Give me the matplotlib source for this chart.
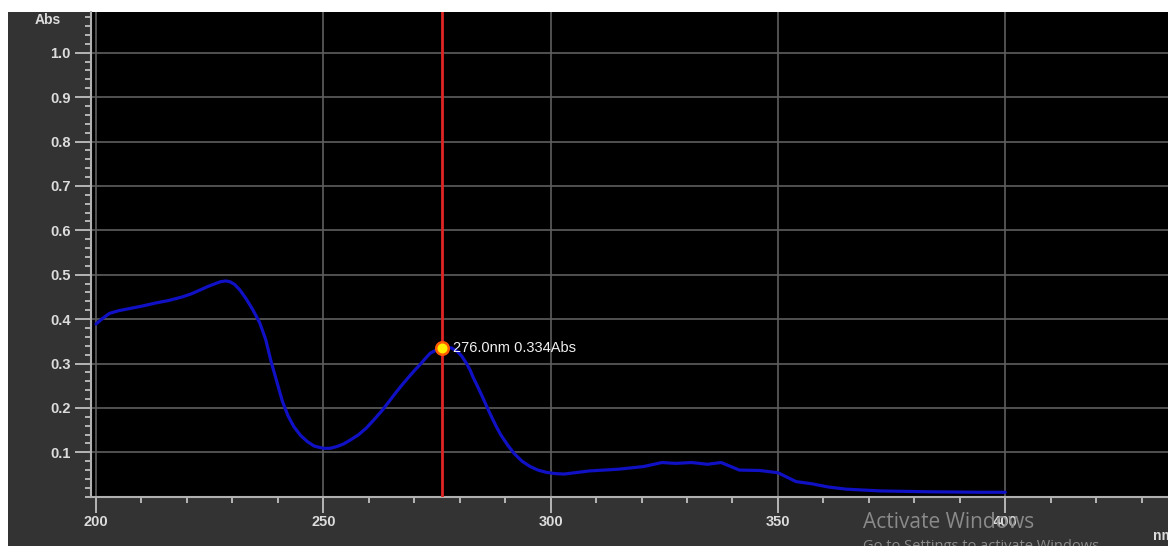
import matplotlib
matplotlib.use("Agg")
import matplotlib.pyplot as plt
from matplotlib.ticker import MultipleLocator, FixedLocator

# spectrum
wavelength = [200, 201.5, 203, 205, 207.5, 210, 213, 216, 219, 221, 223, 224.5,
              226, 227.3, 228.5, 229.5, 230.5, 231.7, 233, 234.5, 236, 237.3, 238.5,
              239.8, 241, 242.2, 243.5, 245, 246.5, 248, 250, 251.5, 253, 254.5,
              256, 257.8, 259.5, 261.2, 263, 264.5, 266, 267.5, 269, 270.3, 271.5,
              272.5, 273.5, 274.8, 276, 277, 278.2, 279.5, 280.5, 281.5, 282.3, 283,
              284, 285, 286, 287, 288, 289, 290.5, 292, 293.7, 295.5, 297.2, 299,
              301, 303, 308.5, 315, 320.5, 324.5, 327.5, 331, 334.5, 337.5, 341.5,
              346, 350, 354, 357.5, 361, 365, 372.5, 383.5, 394.5, 400]
absorbance = [0.389, 0.402, 0.413, 0.419, 0.424, 0.429, 0.436, 0.442, 0.450, 0.457,
              0.466, 0.473, 0.479, 0.484, 0.486, 0.484, 0.478, 0.465, 0.446, 0.421,
              0.392, 0.355, 0.305, 0.258, 0.215, 0.183, 0.158, 0.138, 0.124, 0.114,
              0.109, 0.109, 0.113, 0.119, 0.128, 0.140, 0.155, 0.174, 0.195, 0.215,
              0.235, 0.254, 0.272, 0.287, 0.300, 0.312, 0.323, 0.330, 0.334, 0.336,
              0.335, 0.327, 0.316, 0.300, 0.285, 0.268, 0.247, 0.225, 0.202, 0.180,
              0.159, 0.140, 0.117, 0.097, 0.080, 0.068, 0.060, 0.055, 0.052, 0.051,
              0.058, 0.062, 0.068, 0.077, 0.075, 0.077, 0.073, 0.077, 0.060, 0.059,
              0.054, 0.034, 0.029, 0.022, 0.017, 0.013, 0.011, 0.010, 0.010]

cursor_nm = 276.0
cursor_abs = 0.334

x_ticks = [200, 250, 300, 350, 400]
y_ticks = [0.1, 0.2, 0.3, 0.4, 0.5, 0.6, 0.7, 0.8, 0.9, 1.0]

W, H = 1168, 546
fig = plt.figure(figsize=(W / 100, H / 100), dpi=100, facecolor="white")

# dark gray panel behind the plot
panel = fig.add_axes([8 / W, 0, 1 - 8 / W, 1 - 12 / H])
panel.set_facecolor("#333333")
panel.set_xticks([])
panel.set_yticks([])
for s in panel.spines.values():
    s.set_visible(False)

ax = fig.add_axes([91 / W, (H - 496.7) / H, 1 - 91 / W, (496.7 - 12) / H])
ax.set_facecolor("black")
ax.set_xlim(198.9, 435.8)
ax.set_ylim(0, 1.0917)

ax.xaxis.set_major_locator(FixedLocator(x_ticks))
ax.xaxis.set_minor_locator(MultipleLocator(10))
ax.yaxis.set_major_locator(FixedLocator(y_ticks))
ax.yaxis.set_minor_locator(MultipleLocator(0.02))
ax.set_xticklabels([str(v) for v in x_ticks])
ax.set_yticklabels([f"{v:.1f}" for v in y_ticks])

ax.grid(True, which="major", color="#5e5e5e", linewidth=1.2)
ax.set_axisbelow(True)

for side in ["top", "right"]:
    ax.spines[side].set_visible(False)
for side in ["left", "bottom"]:
    ax.spines[side].set_color("#b0b0b0")
    ax.spines[side].set_linewidth(1.5)

ax.tick_params(which="major", length=11.5, width=1.3, color="#c0c0c0",
               labelcolor="#dcdcdc", labelsize=10.5, pad=2)
ax.tick_params(which="minor", length=4, width=1.3, color="#c0c0c0")
ax.tick_params(axis="y", which="major", pad=3)
for lab in ax.get_xticklabels() + ax.get_yticklabels():
    lab.set_fontweight("bold")
    lab.set_family("Liberation Sans")

ax.plot(wavelength, absorbance, color="#1010c4", linewidth=2.3, zorder=3,
        solid_joinstyle="round", solid_capstyle="round")
ax.axvline(cursor_nm, color="#e02424", linewidth=2, zorder=4)
ax.plot([cursor_nm], [cursor_abs], "o", markersize=9, markerfacecolor="#ffee00",
        markeredgecolor="#ff5a00", markeredgewidth=1.8, zorder=5)
ax.annotate(f"{cursor_nm:.1f}nm {cursor_abs:.3f}Abs", (cursor_nm, cursor_abs),
            xytext=(8, 0), textcoords="offset points", va="center", ha="left",
            color="#f0f0f0", fontsize=10.5, family="Liberation Sans", zorder=6)

fig.text(48 / W, 1 - 20 / H, "Abs", color="#dcdcdc", fontsize=10, ha="center",
         va="center", family="Liberation Sans", fontweight="bold")
fig.text(1153 / W, 1 - 536 / H, "nm", color="#dcdcdc", fontsize=10, ha="left",
         va="center", family="Liberation Sans", fontweight="bold")

# Windows watermark over the screenshot
fig.text(863 / W, 1 - 522 / H, "Activate Windows", color="#8a8a8a", fontsize=15,
         ha="left", va="center", family="Open Sans")
fig.text(863 / W, 1 - 546 / H, "Go to Settings to activate Windows.", color="#8a8a8a",
         fontsize=10.5, ha="left", va="center", family="Open Sans")

fig.savefig("out.png", dpi=100, facecolor="white")
